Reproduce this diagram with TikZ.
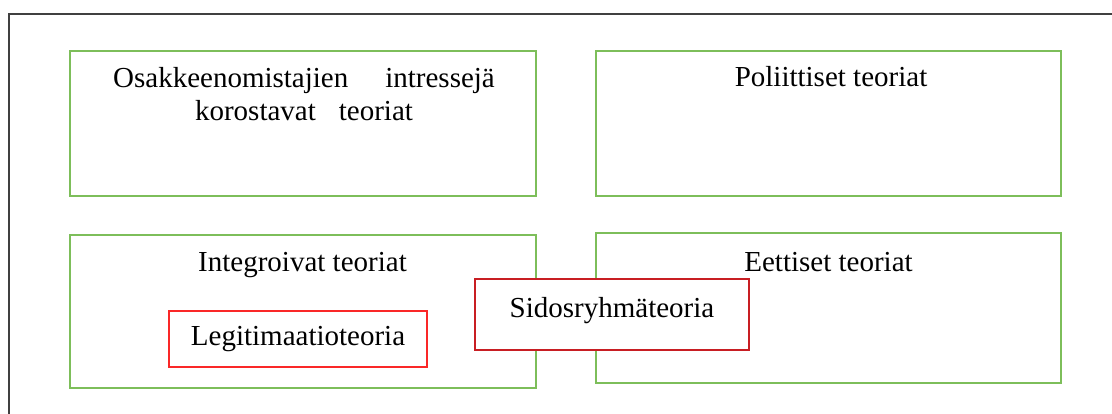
\documentclass[tikz,border=0pt]{standalone}
\usepackage{fontspec}
\setmainfont{Liberation Serif}
\usepackage{tikz}

\definecolor{framegray}{RGB}{64,64,64}
\definecolor{boxgreen}{RGB}{125,190,90}
\definecolor{brightred}{RGB}{250,40,40}
\definecolor{darkred}{RGB}{200,30,35}

\tikzset{
	outerframe/.style={draw=framegray, line width=2pt},
	greenbox/.style={shape=rectangle, draw=boxgreen, line width=2pt},
	redbox/.style={shape=rectangle, fill=white, line width=2pt, inner sep=0pt,
		font=\fontsize{29}{33}\selectfont},
	title/.style={anchor=base, align=center, inner sep=0pt,
		font=\fontsize{29}{33}\selectfont}
}

\begin{document}
\begin{tikzpicture}[x=1pt, y=-1pt]
	
	\useasboundingbox (0,0) rectangle (1112,414);
	\clip (0,0) rectangle (1112,414);
	\draw[outerframe] (9,14) rectangle (1130,440);
	
	\node[greenbox, minimum width=466, minimum height=145] (osak) at (303, 123.5) {};
	\node[greenbox, minimum width=465, minimum height=145] (pol) at (828.5, 123.5) {};
	\node[greenbox, minimum width=466, minimum height=153] (integ) at (303, 311.5) {};
	\node[greenbox, minimum width=465, minimum height=150] (eett) at (828.5, 308) {};
	
	% base of the last line
	\node[title] (osaktxt) at (304, 121) {Osakkeenomistajien\hspace{37pt}intressejä\\korostavat\hspace{23pt}teoriat};
	\node[title] (poltxt) at (831, 87) {Poliittiset teoriat};
	\node[title] (integtxt) at (302.5, 272) {Integroivat teoriat};
	\node[title] (eetttxt) at (828.5, 272) {Eettiset teoriat};
	
	\node[redbox, draw=brightred, minimum width=258, minimum height=56] (legit) at (298, 339) {Legitimaatioteoria};
	\node[redbox, draw=darkred, minimum width=274, minimum height=71, text depth=15pt] (sidos) at (612, 314.5) {Sidosryhmäteoria};
	
\end{tikzpicture}
\end{document}
